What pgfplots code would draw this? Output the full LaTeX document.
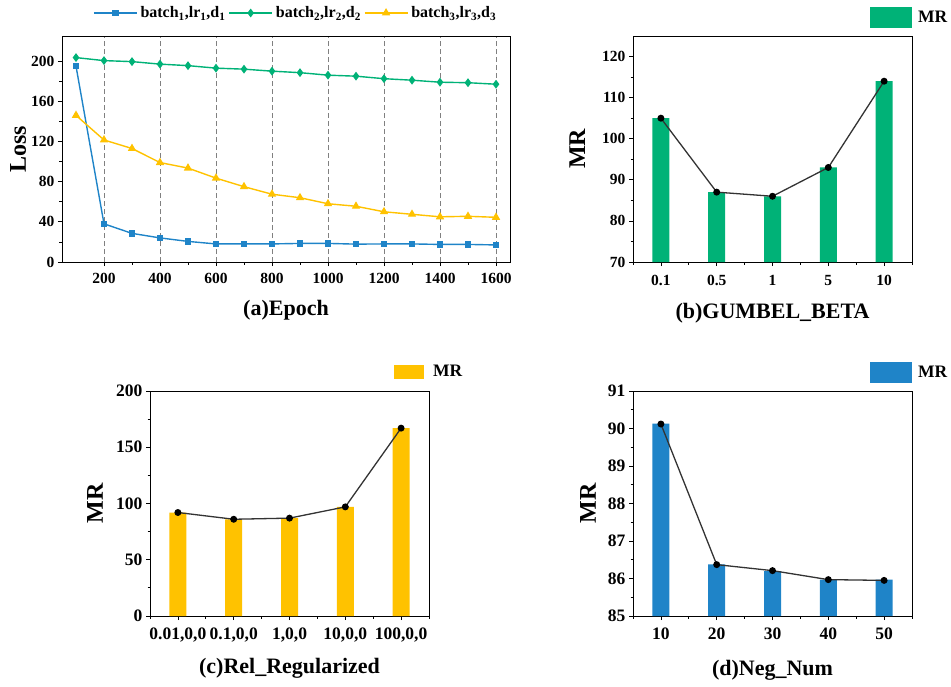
\documentclass[border=0pt]{standalone}
\usepackage{fontspec}
\setmainfont{Liberation Serif}
\usepackage{pgfplots}
\pgfplotsset{compat=1.18}
\definecolor{cblue}{HTML}{1F84C8}
\definecolor{cgreen}{HTML}{00B277}
\definecolor{cyellow}{HTML}{FFC200}
\definecolor{cline}{HTML}{333333}
\pgfplotsset{
  panel/.style={
    scale only axis, anchor=north west,
    axis line style={line width=0.9pt},
    tick align=outside, xtick pos=bottom, ytick pos=left,
    major tick length=4pt, minor tick length=2.5pt,
    every tick/.style={line width=0.8pt, black},
    minor tick num=1,
    /pgf/number format/assume math mode=true,
    /pgf/number format/1000 sep={},
    ticklabel style={font=\bfseries\fontsize{15.5}{17}\selectfont},
    xticklabel style={yshift=-4pt},
    xlabel style={font=\bfseries\fontsize{22}{25}\selectfont},
    ylabel style={font=\bfseries\fontsize{24}{27}\selectfont},
    legend style={draw=none, fill=none, inner sep=0pt, anchor=west,
      nodes={inner sep=0pt}, font=\bfseries\fontsize{17.5}{19}\selectfont},
  },
  barpanel/.style={
    panel, xmin=-0.5, xmax=4.5, xtick={0,...,4},
    minor xtick={-0.5,0.5,1.5,2.5,3.5,4.5},
    legend style={column sep=6pt},
  },
  mrline/.style={cline, line width=1.3pt, mark=*, mark size=2.8pt,
    mark options={fill=black, draw=black}, forget plot},
}
\begin{document}
\begin{tikzpicture}[x=1pt,y=1pt]
\useasboundingbox (0pt,0pt) rectangle (951pt,-686pt);

% (a) loss curves
\begin{axis}[panel, at={(62pt,-36pt)}, width=448pt, height=226pt,
  xmin=50, xmax=1650, ymin=0, ymax=225,
  xtick={200,400,...,1600}, ytick={0,40,...,200},
  xmajorgrids, grid style={dash pattern=on 5pt off 3pt, gray, line width=0.7pt},
  xlabel={(a)Epoch}, ylabel={Loss},
  xlabel style={at={(axis description cs:0.5,-0.212)}, anchor=center},
  ylabel style={at={(axis description cs:-0.098,0.5)}, anchor=center},
  legend columns=3,
  legend style={at={(0.069,1.1018)}, column sep=3pt,
    font=\bfseries\fontsize{16}{18}\selectfont},
  legend image code/.code={
    \draw[#1] (0pt,0pt) -- (43pt,0pt);
    \draw[#1, only marks] plot coordinates {(21.5pt,0pt)};},
]
\addplot[cblue, line width=1.4pt, mark=square*, mark size=2.6pt] coordinates {
  (100,195) (200,38) (300,28.5) (400,24) (500,20.5) (600,18) (700,18) (800,18)
  (900,18.5) (1000,18.5) (1100,17.8) (1200,18) (1300,18) (1400,17.5) (1500,17.5) (1600,17)};
\addplot[cgreen, line width=1.4pt, mark=diamond*, mark size=3.3pt] coordinates {
  (100,203.5) (200,200.5) (300,199.5) (400,197) (500,195.5) (600,193) (700,192) (800,190)
  (900,188.5) (1000,186) (1100,185) (1200,182.5) (1300,181) (1400,179) (1500,178.5) (1600,177)};
\addplot[cyellow, line width=1.4pt, mark=triangle*, mark size=3.5pt] coordinates {
  (100,146) (200,121.5) (300,113) (400,99) (500,93.5) (600,83.5) (700,75) (800,67.5)
  (900,64) (1000,58) (1100,55.5) (1200,50) (1300,47.5) (1400,45) (1500,45.5) (1600,44.5)};
\legend{{batch\textsubscript{1},lr\textsubscript{1},d\textsubscript{1}},
  {batch\textsubscript{2},lr\textsubscript{2},d\textsubscript{2}},
  {batch\textsubscript{3},lr\textsubscript{3},d\textsubscript{3}}}
\end{axis}

% (b) GUMBEL_BETA
\begin{axis}[barpanel, at={(633pt,-36pt)}, width=279pt, height=226pt,
  ymin=70, ymax=125, ytick={70,80,...,120},
  xticklabels={0.1,0.5,1,5,10},
  xticklabel style={yshift=-2pt},
  xlabel={(b)GUMBEL\_BETA}, ylabel={MR},
  xlabel style={at={(axis description cs:0.5,-0.226)}, anchor=center},
  ylabel style={at={(axis description cs:-0.2,0.5)}, anchor=center},
  legend style={at={(0.8495,1.0819)}},
  legend image code/.code={\fill[cgreen] (0pt,-10.5pt) rectangle (42pt,10.5pt);},
]
\addplot[ybar, bar width=17pt, fill=cgreen, draw=none] coordinates {
  (0,105) (1,87) (2,86) (3,93) (4,114)};
\addlegendentry{MR}
\addplot[mrline] coordinates {(0,105) (1,87) (2,86) (3,93) (4,114)};
\end{axis}

% (c) Rel_Regularized
\begin{axis}[barpanel, at={(150pt,-391pt)}, width=279pt, height=225pt,
  ymin=0, ymax=200, ytick={0,50,...,200},
  xticklabels={{0.01,0,0},{0.1,0,0},{1,0,0},{10,0,0},{100,0,0}},
  ticklabel style={font=\bfseries\fontsize{17.5}{19}\selectfont},
  xlabel={(c)Rel\_Regularized}, ylabel={MR},
  xlabel style={at={(axis description cs:0.5,-0.231)}, anchor=center},
  ylabel style={at={(axis description cs:-0.197,0.5)}, anchor=center},
  legend style={at={(0.8746,1.0844)}, column sep=9pt},
  legend image code/.code={\fill[cyellow] (0pt,-7pt) rectangle (30pt,7pt);},
]
\addplot[ybar, bar width=17pt, fill=cyellow, draw=none] coordinates {
  (0,92) (1,86) (2,87) (3,97) (4,167)};
\addlegendentry{MR}
\addplot[mrline] coordinates {(0,92) (1,86) (2,87) (3,97) (4,167)};
\end{axis}

% (d) Neg_Num
\begin{axis}[barpanel, at={(633pt,-391pt)}, width=279pt, height=225pt,
  ymin=85, ymax=91, ytick={85,86,...,91},
  xticklabels={10,20,30,40,50},
  ticklabel style={font=\bfseries\fontsize{17.5}{19}\selectfont},
  xlabel={(d)Neg\_Num}, ylabel={MR},
  xlabel style={at={(axis description cs:0.5,-0.24)}, anchor=center},
  ylabel style={at={(axis description cs:-0.161,0.5)}, anchor=center},
  legend style={at={(0.8495,1.0822)}},
  legend image code/.code={\fill[cblue] (0pt,-10.5pt) rectangle (42pt,10.5pt);},
]
\addplot[ybar, bar width=17pt, fill=cblue, draw=none] coordinates {
  (0,90.13) (1,86.38) (2,86.2) (3,85.97) (4,85.97)};
\addlegendentry{MR}
\addplot[mrline] coordinates {(0,90.12) (1,86.37) (2,86.21) (3,85.97) (4,85.95)};
\end{axis}
\end{tikzpicture}
\end{document}
